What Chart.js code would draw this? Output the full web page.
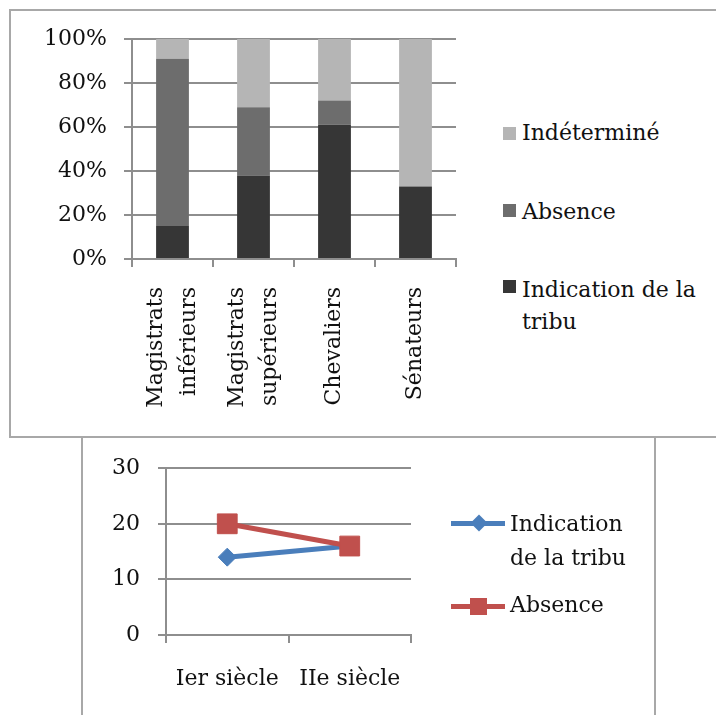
<!DOCTYPE html>
<html lang="fr">
<head>
    <meta charset="UTF-8">
    <title>Indication de la tribu</title>
    <script src="https://cdn.jsdelivr.net/npm/chart.js"></script>
    <style>
        body { margin: 0; background: #fff; font-family: "DejaVu Serif", serif; color: #111; }
        .page { position: relative; width: 716px; height: 715px; overflow: hidden; }
        .box { position: absolute; border: 2px solid #a8a8a8; background: #fff; }
        canvas { position: absolute; }
        .leg { position: absolute; font-size: 22px; line-height: 32px; white-space: nowrap; }
        .sq { position: absolute; width: 13px; height: 13px; }
        .ln { position: absolute; height: 5px; width: 54px; }
        .mk { position: absolute; }
    </style>
</head>
<body>
<div class="page">
    <div class="box" style="left:9px; top:9px; width:720px; height:425px;"></div>
    <div class="box" style="left:81px; top:436px; width:571px; height:300px;"></div>

    <canvas id="bars" width="470" height="436" style="left:0; top:0;"></canvas>
    <canvas id="lines" width="420" height="278" style="left:82px; top:437px;"></canvas>

    <!-- légende du haut -->
    <div class="sq" style="left:503px; top:127px; background:#b5b5b5;"></div>
    <div class="leg" style="left:522px; top:117px;">Indéterminé</div>
    <div class="sq" style="left:503px; top:204px; background:#6d6d6d;"></div>
    <div class="leg" style="left:522px; top:196px;">Absence</div>
    <div class="sq" style="left:503px; top:280px; background:#363636;"></div>
    <div class="leg" style="left:522px; top:274px;">Indication de la</div>
    <div class="leg" style="left:522px; top:306px;">tribu</div>

    <!-- légende du bas -->
    <div class="ln" style="left:451px; top:521px; background:#4a7ebb;"></div>
    <div class="mk" style="left:473px; top:517px; width:12px; height:12px; background:#4a7ebb; transform:rotate(45deg);"></div>
    <div class="leg" style="left:510px; top:508px;">Indication</div>
    <div class="leg" style="left:510px; top:542px;">de la tribu</div>
    <div class="ln" style="left:451px; top:604px; background:#c0504d;"></div>
    <div class="mk" style="left:470px; top:598px; width:17px; height:17px; background:#c0504d;"></div>
    <div class="leg" style="left:510px; top:589px;">Absence</div>
</div>

<script>
    const groupes = [["Magistrats", "inférieurs"], ["Magistrats", "supérieurs"], "Chevaliers", "Sénateurs"];
    const indication = [15, 38, 61, 33];
    const absence = [76, 31, 11, 0];
    const indetermine = [9, 31, 28, 67];
    const pourcentTicks = [0, 20, 40, 60, 80, 100];

    const siecles = ["Ier siècle", "IIe siècle"];
    const indicationSiecle = [14, 16];
    const absenceSiecle = [20, 16];

    const serif = { family: "DejaVu Serif", size: 22 };
    const gridGrey = '#8e8e8e';

    // les étiquettes tournées : on centre les deux lignes sur la barre
    // (demi-interligne + ligne vide, puis décalage d'un demi-interligne)
    const etiquettes = groupes.map(g => Array.isArray(g) ? [g[0], '', g[1]] : ['', g]);

    new Chart(document.getElementById('bars'), {
        type: 'bar',
        data: {
            labels: etiquettes,
            datasets: [
                { label: 'Indication de la tribu', data: indication, backgroundColor: '#363636' },
                { label: 'Absence', data: absence, backgroundColor: '#6d6d6d' },
                { label: 'Indéterminé', data: indetermine, backgroundColor: '#b5b5b5' }
            ]
        },
        options: {
            responsive: false,
            devicePixelRatio: 1,
            animation: false,
            barPercentage: 0.405,
            categoryPercentage: 1,
            layout: { padding: { top: 39, right: 12, left: 0, bottom: 0 } },
            plugins: { legend: { display: false }, tooltip: { enabled: false } },
            scales: {
                x: {
                    stacked: true,
                    grid: { drawOnChartArea: false, drawTicks: true, tickLength: 8, color: gridGrey, lineWidth: 2 },
                    border: { color: gridGrey, width: 2 },
                    ticks: {
                        color: '#111', font: { ...serif, lineHeight: 0.75 },
                        minRotation: 90, maxRotation: 90, padding: 20, autoSkip: false,
                        labelOffset: -16.5
                    },
                    afterFit: s => { s.height = 177; }
                },
                y: {
                    stacked: true,
                    min: 0, max: 100,
                    afterBuildTicks: s => { s.ticks = pourcentTicks.map(v => ({ value: v })); },
                    grid: { tickLength: 8, color: gridGrey, lineWidth: 2 },
                    border: { color: gridGrey, width: 2 },
                    ticks: { color: '#111', font: serif, padding: 17, callback: v => v + '%' },
                    afterFit: s => { s.width = 132; }
                }
            }
        }
    });

    new Chart(document.getElementById('lines'), {
        type: 'line',
        data: {
            labels: siecles,
            datasets: [
                {
                    label: 'Indication de la tribu', data: indicationSiecle, order: 1,
                    borderColor: '#4a7ebb', backgroundColor: '#4a7ebb', borderWidth: 5,
                    pointStyle: 'rectRot', pointRadius: 9, pointBorderWidth: 1
                },
                {
                    label: 'Absence', data: absenceSiecle, order: 0,
                    borderColor: '#c0504d', backgroundColor: '#c0504d', borderWidth: 5,
                    pointStyle: 'rect', pointRadius: 14, pointBorderWidth: 1
                }
            ]
        },
        options: {
            responsive: false,
            devicePixelRatio: 1,
            animation: false,
            layout: { padding: { top: 30, right: 91, left: 0, bottom: 0 } },
            plugins: { legend: { display: false }, tooltip: { enabled: false } },
            scales: {
                x: {
                    offset: true,
                    grid: { offset: true, drawOnChartArea: false, tickLength: 8, color: gridGrey, lineWidth: 2 },
                    border: { color: gridGrey, width: 2 },
                    ticks: { color: '#111', font: serif, padding: 23 },
                    afterFit: s => { s.height = 80; }
                },
                y: {
                    min: 0, max: 30,
                    ticks: { stepSize: 10, color: '#111', font: serif, padding: 18 },
                    grid: { tickLength: 8, color: gridGrey, lineWidth: 2 },
                    border: { color: gridGrey, width: 2 },
                    afterFit: s => { s.width = 84; }
                }
            }
        }
    });
</script>
</body>
</html>
